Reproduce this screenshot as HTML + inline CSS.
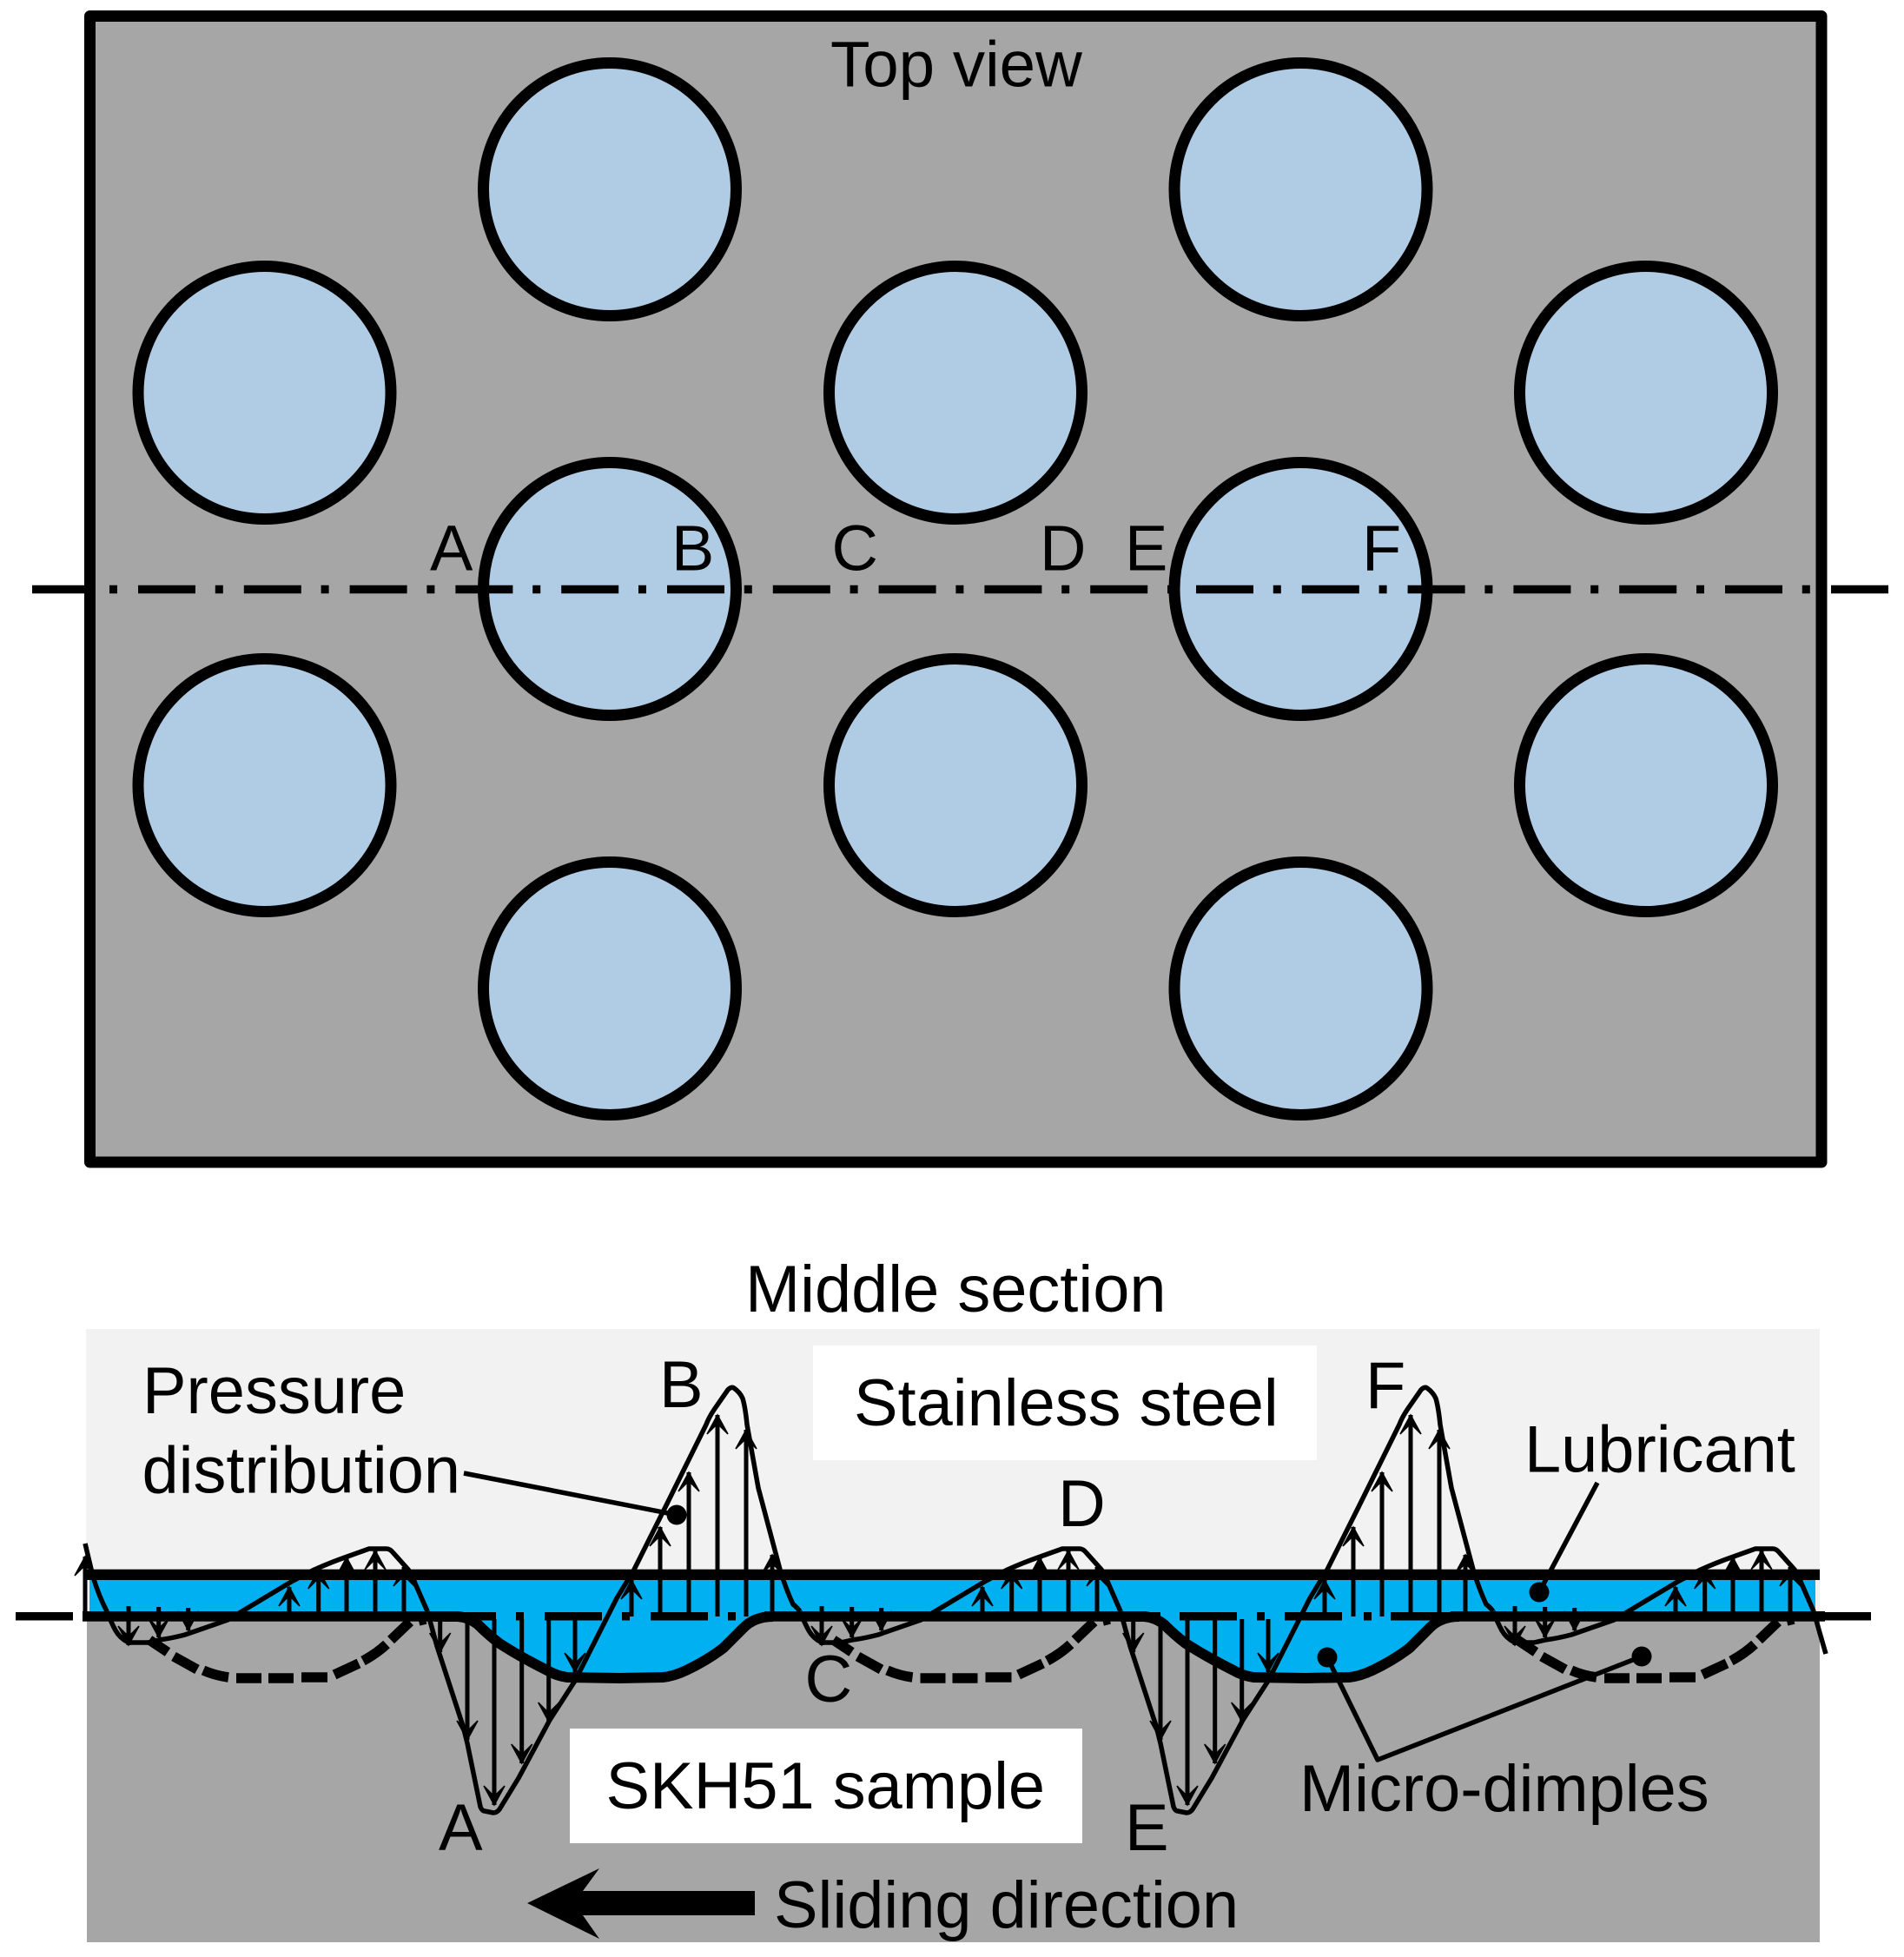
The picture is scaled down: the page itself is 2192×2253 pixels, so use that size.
<!DOCTYPE html>
<html><head><meta charset="utf-8"><style>html,body{margin:0;padding:0;background:#fff}svg{display:block}text{font-family:"Liberation Sans",sans-serif;font-size:75.8px;fill:#000}</style></head><body>
<svg xmlns="http://www.w3.org/2000/svg" width="2192" height="2253" viewBox="0 0 2192 2253">
<defs>
<marker id="ah" markerUnits="userSpaceOnUse" markerWidth="44" markerHeight="44" viewBox="-32 -22 44 44" refX="0" refY="0" orient="auto" overflow="visible"><polygon points="0,0 -22,-12 -10,0 -22,12" fill="#000" stroke="#000" stroke-width="1.500" stroke-linejoin="miter"/></marker>
<g id="lo">
<path d="M123,1855 Q128,1868 133,1877 Q138,1886 148,1891 L170,1891 L183,1888 Q198,1886 213,1882 L262,1865 L337,1820 L362,1807 Q380,1799 397,1793 L425,1783 L445,1783 Q449,1783 453,1788 L470,1807 Q474,1812 478,1823 L492,1855" fill="none" stroke="#000" stroke-width="5.500" stroke-linejoin="round"/>
<g stroke="#000" stroke-width="5">
<line x1="148" y1="1849" x2="148" y2="1894" marker-end="url(#ah)"/>
<line x1="182.700" y1="1850" x2="182.700" y2="1885" marker-end="url(#ah)"/>
<line x1="216.700" y1="1851" x2="216.700" y2="1877" marker-end="url(#ah)"/>
<line x1="333" y1="1861" x2="333" y2="1827" marker-end="url(#ah)"/>
<line x1="366.700" y1="1861" x2="366.700" y2="1807" marker-end="url(#ah)"/>
<line x1="399" y1="1861" x2="399" y2="1793" marker-end="url(#ah)"/>
<line x1="432" y1="1861" x2="432" y2="1785" marker-end="url(#ah)"/>
<line x1="465" y1="1861" x2="465" y2="1804" marker-end="url(#ah)"/>
</g></g>
<g id="hi">
<path d="M492,1855 L503,1895 L533,1987 L538,2007 L553,2080 Q555,2085 558,2085 L568,2087 Q572,2087 575,2083 L597,2047 L633,1980 L662,1935 L710,1840 L730,1807 L767,1733 L813,1640 Q816,1632 822,1623 L838,1600 Q842,1596 845,1598 Q852,1603 855,1610 Q858,1620 860,1640 L873,1713 L898,1807 Q905,1830 913,1847 Q917,1850 921,1855" fill="none" stroke="#000" stroke-width="5.500" stroke-linejoin="round"/>
<g stroke="#000" stroke-width="5">
<line x1="506.700" y1="1864" x2="506.700" y2="1902" marker-end="url(#ah)"/>
<line x1="538" y1="1864" x2="538" y2="2003" marker-end="url(#ah)"/>
<line x1="569" y1="1864" x2="569" y2="2078" marker-end="url(#ah)"/>
<line x1="600.700" y1="1864" x2="600.700" y2="2030" marker-end="url(#ah)"/>
<line x1="631.700" y1="1864" x2="631.700" y2="1982" marker-end="url(#ah)"/>
<line x1="662" y1="1864" x2="662" y2="1925" marker-end="url(#ah)"/>
<line x1="727" y1="1861" x2="727" y2="1819" marker-end="url(#ah)"/>
<line x1="760" y1="1861" x2="760" y2="1758" marker-end="url(#ah)"/>
<line x1="793" y1="1861" x2="793" y2="1695" marker-end="url(#ah)"/>
<line x1="826" y1="1861" x2="826" y2="1629" marker-end="url(#ah)"/>
<line x1="859" y1="1861" x2="859" y2="1646" marker-end="url(#ah)"/>
<line x1="889" y1="1861" x2="889" y2="1790" marker-end="url(#ah)"/>
</g></g>
<path id="dimfill" d="M527,1861 Q540,1862 550,1870 Q562,1882 575,1892 Q600,1908 630,1923 Q640,1929 653,1931 L713,1932 L763,1931 Q775,1930 790,1923 Q815,1911 833,1897 L855,1875 Q868,1861 890,1861 Z" fill="#00b0f0"/>
<path id="dimline" d="M500,1861 L527,1861 Q540,1862 550,1870 Q562,1882 575,1892 Q600,1908 630,1923 Q640,1929 653,1931 L713,1932 L763,1931 Q775,1930 790,1923 Q815,1911 833,1897 L855,1875 Q868,1861 890,1861" fill="none" stroke="#000" stroke-width="12" stroke-linejoin="round"/>
<path id="dash" d="M172,1888 L193,1902 M200,1907 L227,1922 M234,1923 Q248,1929 263,1931 M272,1932 L301,1932 M309,1932 L338,1932 M347,1931 L377,1931 M385,1928 L413,1915 M418,1912 Q433,1904 445,1893 M450,1888 L472,1867 M482,1866 L490,1864" fill="none" stroke="#000" stroke-width="11.500"/>
</defs>

<!-- Top view -->
<rect x="103.500" y="18.500" width="1993.500" height="1319.500" fill="#a6a6a6" stroke="#000" stroke-width="13" stroke-linejoin="round"/>
<g fill="#b0cce5" stroke="#000" stroke-width="13">
<circle cx="304.500" cy="452" r="145.500"/><circle cx="702" cy="218" r="145.500"/><circle cx="1100" cy="452" r="145.500"/><circle cx="1497.500" cy="218" r="145.500"/><circle cx="1895" cy="452" r="145.500"/>
<circle cx="702" cy="678" r="145.500"/><circle cx="1497.500" cy="678" r="145.500"/>
<circle cx="304.500" cy="904" r="145.500"/><circle cx="1100" cy="904" r="145.500"/><circle cx="1895" cy="904" r="145.500"/>
<circle cx="702" cy="1138" r="145.500"/><circle cx="1497.500" cy="1138" r="145.500"/>
</g>
<line x1="37" y1="678.500" x2="98" y2="678.500" stroke="#000" stroke-width="9.500"/>
<line x1="2108" y1="678.500" x2="2174" y2="678.500" stroke="#000" stroke-width="9.500"/>
<line x1="126" y1="678.500" x2="2085" y2="678.500" stroke="#000" stroke-width="9.500" stroke-dasharray="9 24 66 22.800"/>
<text x="956" y="99.500" style="font-size:74.500px">Top view</text>
<text x="495" y="656.500" style="font-size:74px">A</text>
<text x="773" y="656.500" style="font-size:74px">B</text>
<text x="957.500" y="656.500" style="font-size:74px">C</text>
<text x="1197" y="656.500" style="font-size:74px">D</text>
<text x="1295" y="656.500" style="font-size:74px">E</text>
<text x="1568" y="656.500" style="font-size:74px">F</text>

<!-- Section -->
<rect x="99" y="1530" width="1996" height="331" fill="#f2f2f2"/>
<rect x="100" y="1861" width="1995" height="375" fill="#a6a6a6"/>
<rect x="936" y="1549" width="580" height="132" fill="#fff"/>
<rect x="656" y="1990" width="590" height="132" fill="#fff"/>
<rect x="99" y="1812" width="5" height="49" fill="#fff"/>
<rect x="103" y="1812" width="1987" height="49" fill="#00b0f0"/>
<use href="#dimfill"/><use href="#dimfill" transform="translate(790,0)"/>
<use href="#dimline"/><use href="#dimline" transform="translate(790,0)"/>
<use href="#dash"/><use href="#dash" transform="translate(787.500,0)"/><use href="#dash" transform="translate(1575,0)"/>
<rect x="99" y="1806.700" width="1996" height="12.300" fill="#000"/>
<g fill="#000">
<rect x="18" y="1856" width="66" height="9.500"/>
<rect x="95" y="1855" width="432" height="11.700"/>
<rect x="527" y="1856" width="44" height="9.500"/>
<rect x="594" y="1856" width="9" height="9.500"/>
<rect x="627" y="1856" width="66" height="9.500"/>
<rect x="716" y="1856" width="9" height="9.500"/>
<rect x="749" y="1856" width="66" height="9.500"/>
<rect x="838" y="1856" width="9" height="9.500"/>
<rect x="880" y="1855" width="440" height="11.700"/>
<rect x="1320" y="1856" width="16" height="9.500"/>
<rect x="1358" y="1856" width="66" height="9.500"/>
<rect x="1447" y="1856" width="9" height="9.500"/>
<rect x="1479" y="1856" width="66" height="9.500"/>
<rect x="1570" y="1856" width="9" height="9.500"/>
<rect x="1601" y="1856" width="70" height="9.500"/>
<rect x="1670" y="1855" width="431" height="11.700"/>
<rect x="2101" y="1856" width="53" height="9.500"/>
</g>
<path d="M98,1777 L107,1815 Q114,1838 123,1855" fill="none" stroke="#000" stroke-width="5.500"/>
<line x1="98" y1="1861" x2="98" y2="1792" stroke="#000" stroke-width="5" marker-end="url(#ah)"/>
<use href="#lo"/><use href="#hi"/>
<use href="#lo" transform="translate(798,0)"/><use href="#hi" transform="translate(798,0)"/>
<use href="#lo" transform="translate(1596,0)"/>
<path d="M2088,1855 Q2095,1880 2102,1904" fill="none" stroke="#000" stroke-width="5.500"/>
<!-- leaders -->
<g stroke="#000" stroke-width="5.500" fill="none" stroke-linejoin="round">
<line x1="534" y1="1696" x2="779" y2="1744"/>
<line x1="1839" y1="1707" x2="1772" y2="1833"/>
<path d="M1528,1908 L1586,2026 L1890,1907"/>
</g>
<g fill="#000">
<circle cx="779" cy="1744" r="11.500"/><circle cx="1772" cy="1833" r="11.500"/><circle cx="1528" cy="1908" r="11.500"/><circle cx="1890" cy="1907" r="11.500"/>
<polygon points="607,2191 690,2151 671,2177 869,2177 869,2205 671,2205 690,2232"/>
</g>
<text x="858" y="1510">Middle section</text>
<text x="164" y="1627">Pressure</text>
<text x="163.500" y="1718.500">distribution</text>
<text x="759" y="1620">B</text>
<text x="983" y="1641">Stainless steel</text>
<text x="1218" y="1757">D</text>
<text x="1572" y="1621">F</text>
<text x="1755" y="1694.500">Lubricant</text>
<text x="926.500" y="1959">C</text>
<text x="697.500" y="2082">SKH51 sample</text>
<text x="505" y="2130">A</text>
<text x="1295" y="2130">E</text>
<text x="1496" y="2085">Micro-dimples</text>
<text x="891" y="2219">Sliding direction</text>
</svg>
</body></html>
